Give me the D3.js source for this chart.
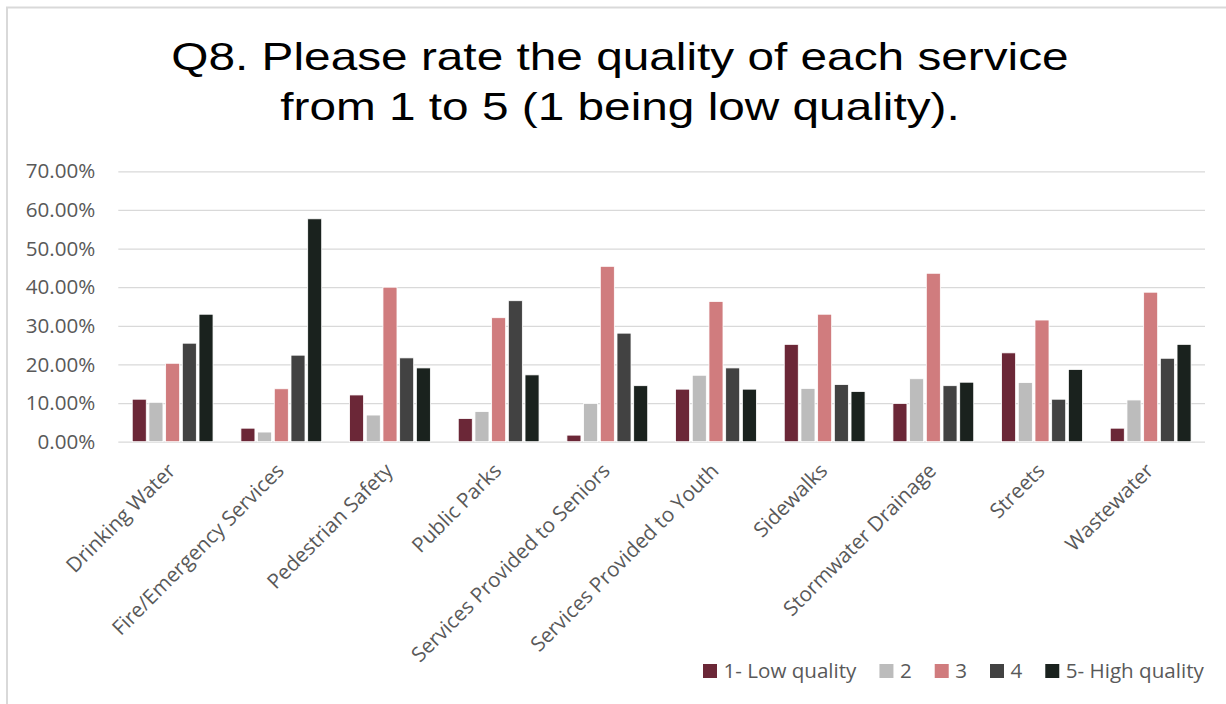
<!DOCTYPE html>
<html>
<head>
<meta charset="utf-8">
<script src="https://cdn.jsdelivr.net/npm/d3@7"></script>
<style>
  html, body { margin: 0; padding: 0; background: #fff; }
  svg { display: block; }
</style>
</head>
<body>
<svg id="chart" width="1226" height="704"></svg>
<script>
// Service categories (x axis)
const categories = [
  "Drinking Water", "Fire/Emergency Services", "Pedestrian Safety", "Public Parks",
  "Services Provided to Seniors", "Services Provided to Youth", "Sidewalks",
  "Stormwater Drainage", "Streets", "Wastewater"
];

// Rating series names (legend)
const seriesNames = ["1- Low quality", "2", "3", "4", "5- High quality"];

// Share of respondents per rating, in percent
const rating1 = [11.0, 3.5, 12.1, 6.0, 1.7, 13.6, 25.2, 9.9, 23.0, 3.5];
const rating2 = [10.2, 2.5, 6.9, 7.8, 9.9, 17.2, 13.8, 16.3, 15.3, 10.8];
const rating3 = [20.3, 13.7, 40.0, 32.1, 45.4, 36.3, 33.0, 43.6, 31.5, 38.7];
const rating4 = [25.5, 22.4, 21.7, 36.5, 28.1, 19.1, 14.8, 14.5, 11.0, 21.6];
const rating5 = [33.0, 57.7, 19.1, 17.3, 14.5, 13.6, 13.0, 15.4, 18.7, 25.2];

// Y axis ticks, in percent
const yTicks = [0, 10, 20, 30, 40, 50, 60, 70];

const seriesValues = [rating1, rating2, rating3, rating4, rating5];
const colors = ["#6b2737", "#bcbcbc", "#d07c7e", "#424242", "#1a221e"];

const svg = d3.select("#chart");
const W = 1226, H = 704;
const plot = { left: 118.3, right: 1205, top: 171.3, bottom: 441.7 };
const textFont = "'Open Sans', sans-serif";
const textColor = "#595959";

// Chart frame
svg.append("rect")
  .attr("x", 7).attr("y", 7.5)
  .attr("width", W + 20).attr("height", H + 20)
  .attr("fill", "#fff")
  .attr("stroke", "#d9d9d9").attr("stroke-width", 2);

// Title (stretched Arial)
const title = svg.append("g")
  .attr("transform", "translate(620,0) scale(1.225,1)");
["Q8. Please rate the quality of each service", "from 1 to 5 (1 being low quality)."]
  .forEach((line, i) => {
    title.append("text")
      .attr("x", 0).attr("y", 70 + i * 50)
      .attr("text-anchor", "middle")
      .attr("font-family", "'Liberation Sans', Arial, sans-serif")
      .attr("font-size", 39)
      .attr("fill", "#000")
      .text(line);
  });

// Scales
const x0 = d3.scaleBand()
  .domain(categories)
  .range([plot.left, plot.right])
  .paddingInner(0).paddingOuter(0);

const x1 = d3.scaleBand()
  .domain(d3.range(seriesNames.length))
  .range([0, x0.bandwidth()])
  .paddingInner(0.16).paddingOuter(0.835);

const y = d3.scaleLinear()
  .domain([0, 70])
  .range([plot.bottom, plot.top]);

// Gridlines
svg.append("g")
  .attr("transform", `translate(${plot.left},0)`)
  .call(d3.axisLeft(y).tickValues(yTicks).tickSize(-(plot.right - plot.left)).tickFormat(""))
  .call(g => g.select(".domain").remove())
  .call(g => g.selectAll("line").attr("stroke", "#d9d9d9").attr("stroke-width", 1.3));

// Y axis labels
svg.append("g")
  .attr("transform", `translate(${plot.left},0)`)
  .call(d3.axisLeft(y).tickValues(yTicks).tickSize(0).tickPadding(23)
    .tickFormat(d => d.toFixed(2) + "%"))
  .call(g => g.select(".domain").remove())
  .call(g => g.selectAll("text")
    .attr("font-family", textFont)
    .attr("font-size", 20.6)
    .attr("fill", textColor));

// Bars
const groups = svg.append("g").selectAll("g")
  .data(categories)
  .join("g")
  .attr("transform", d => `translate(${x0(d)},0)`);

groups.selectAll("rect")
  .data((d, ci) => seriesValues.map((vals, si) => ({ si, value: vals[ci] })))
  .join("rect")
  .attr("x", d => x1(d.si))
  .attr("width", x1.bandwidth())
  .attr("y", d => y(d.value))
  .attr("height", d => y(0) - y(d.value))
  .attr("fill", d => colors[d.si])
  .attr("stroke", "#fff")
  .attr("stroke-width", 0.8);

// X axis labels, rotated
svg.append("g").selectAll("text")
  .data(categories)
  .join("text")
  .attr("transform", d => `translate(${x0(d) + x0.bandwidth() / 2 + 4},472) rotate(-45)`)
  .attr("text-anchor", "end")
  .attr("font-family", textFont)
  .attr("font-size", 20.6)
  .attr("fill", textColor)
  .text(d => d);

// Legend
const legend = svg.append("g").attr("transform", "translate(703,664)");
let lx = 0;
seriesNames.forEach((name, i) => {
  const item = legend.append("g").attr("transform", `translate(${lx},0)`);
  item.append("rect")
    .attr("width", 14).attr("height", 14)
    .attr("fill", colors[i]);
  const t = item.append("text")
    .attr("x", 20.5).attr("y", 14)
    .attr("font-family", textFont)
    .attr("font-size", 20.6)
    .attr("fill", textColor)
    .text(name);
  lx += 20.5 + t.node().getComputedTextLength() + 23;
});
</script>
</body>
</html>
